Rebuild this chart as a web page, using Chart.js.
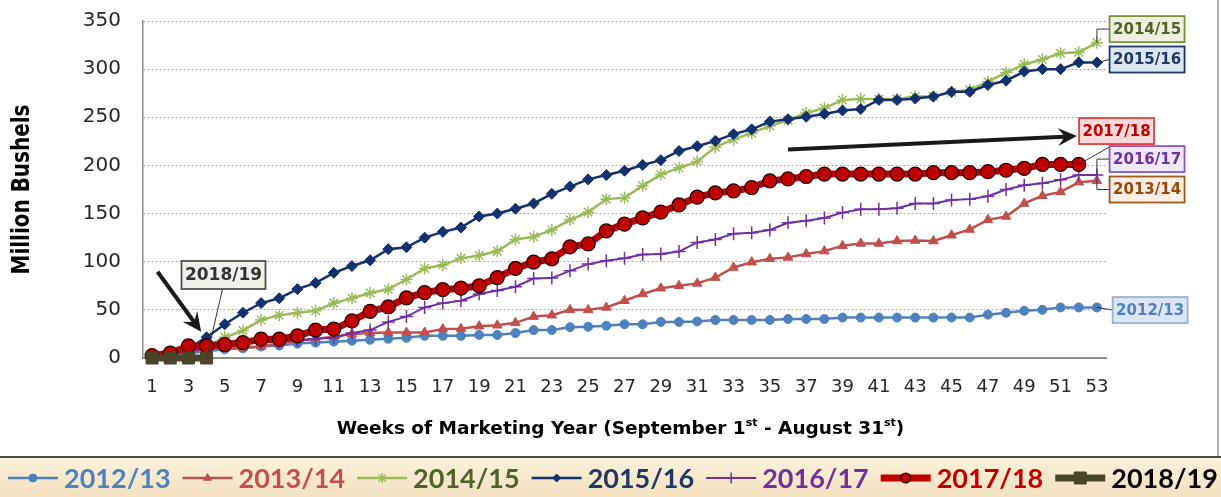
<!DOCTYPE html>
<html>
<head>
<meta charset="utf-8">
<script src="https://cdn.jsdelivr.net/npm/chart.js@4.4.1/dist/chart.umd.min.js"></script>
<style>
  html, body { margin: 0; padding: 0; background: #fff; overflow: hidden; }
</style>
</head>
<body>
<canvas id="exportChart" width="1221" height="497"></canvas>
<script>
// weeks of the marketing year
const weeks = ['1','2','3','4','5','6','7','8','9','10','11','12','13','14','15','16','17','18','19','20',
  '21','22','23','24','25','26','27','28','29','30','31','32','33','34','35','36','37','38','39','40',
  '41','42','43','44','45','46','47','48','49','50','51','52','53'];

// cumulative exports, million bushels
const y2012 = [2, 3, 5, 7, 9, 10, 12, 13, 15, 16, 17, 18, 19, 20, 21, 23, 23, 23, 24, 24,
  26, 29, 29, 32, 32.5, 33.5, 35, 35, 37.5, 37.5, 38, 39.5, 39.5, 39.5, 39.5, 40.5, 40.5, 40.5, 42, 42,
  42, 42, 42, 42, 42, 42, 45, 47, 49, 50, 52.5, 52.5, 52.5];
const y2013 = [3, 6, 7, 9, 10, 11, 12, 15, 18, 20, 22, 25, 26, 26.5, 26.5, 26.5, 30, 30.5, 33, 34,
  36.5, 43, 44.5, 50, 50, 52.5, 59.5, 66.5, 72.5, 75, 77.5, 83.5, 94, 99.5, 103, 104.5, 108, 111, 116.5, 119,
  119, 121.5, 122, 121.5, 127.5, 133.5, 143.5, 147, 160.5, 168.5, 172.5, 182.5, 184];
const y2014 = [2, 4, 8, 12.5, 21.5, 28.5, 39.5, 44.5, 47, 49, 57, 62, 67.5, 71.5, 81.5, 93, 96.5, 103.5, 106.5, 111,
  123, 126, 133, 143.5, 151.5, 165, 166.5, 179, 190.5, 197.5, 204, 219, 227, 233.5, 241, 247, 254.5, 259.5, 268, 269,
  269, 269, 271.5, 271.5, 276, 278.5, 287, 296.5, 305, 310, 316.5, 317.5, 327.5];
const y2015 = [2, 5, 10, 21.5, 35, 47, 57, 62, 71.5, 78, 88.5, 95.5, 101.5, 113, 115, 125, 131, 135.5, 147, 150,
  155, 160.5, 170.5, 178, 185.5, 190, 194.5, 200.5, 205.5, 215, 220, 225.5, 232.5, 237.5, 245.5, 248, 250.5, 253.5, 257, 258.5,
  268, 268, 269.5, 271.5, 276.5, 276.5, 283.5, 288, 297.5, 300, 300, 307, 307];
const y2016 = [2, 4, 7, 10, 13, 15, 16, 17, 18, 20, 21, 26, 29, 37.5, 43, 52.5, 57, 59.5, 66.5, 70,
  74, 82.5, 83, 90.5, 97.5, 101, 103.5, 107.5, 108, 110.5, 120, 123, 129, 130, 133, 140.5, 142.5, 145.5, 151, 154.5,
  154.5, 155.5, 160.5, 160.5, 164, 165, 168, 175, 179.5, 181.5, 185, 190, 190];
const y2017 = [2.5, 5, 12.5, 12.5, 14, 16, 19.5, 19.5, 23, 29, 30, 38.5, 48.5, 53, 62.5, 68, 71, 72.5, 75, 83.5,
  93, 99.5, 103, 115.5, 118.5, 132, 139, 145.5, 151.5, 159, 167, 171.5, 173.5, 177, 184, 186, 188.5, 191, 191, 191,
  191, 191, 191, 192.5, 192.5, 192.5, 193.5, 195, 197, 201, 201, 201];
const y2018 = [0, 0, 0, 0];

const seasons = ['2012/13', '2013/14', '2014/15', '2015/16', '2016/17', '2017/18', '2018/19'];
const yTicks = [0, 50, 100, 150, 200, 250, 300, 350];

// line look for every season
const looks = [
  { line: '#4F81BD', w: 2.5, pt: 'circle',   r: 4.5, fill: '#4F81BD', edge: '#4F81BD', pw: 1,   lr: 4,   text: '#4F81BD' },
  { line: '#C0504D', w: 2.5, pt: 'triangle', r: 5.5, fill: '#C0504D', edge: '#C0504D', pw: 1,   lr: 4.5, text: '#C0504D' },
  { line: '#9BBB59', w: 2.5, pt: 'star',     r: 6,   fill: '#9BBB59', edge: '#9BBB59', pw: 1.5, lr: 5,   text: '#4F6228' },
  { line: '#14306E', w: 2.5, pt: 'rectRot',  r: 5.5, fill: '#14306E', edge: '#14306E', pw: 1,   lr: 4,   text: '#1F3864' },
  { line: '#7030A0', w: 2,   pt: 'cross',    r: 6.5, fill: '#7030A0', edge: '#7030A0', pw: 1.5, lr: 5.5, text: '#7030A0' },
  { line: '#C00000', w: 7,   pt: 'circle',   r: 7,   fill: '#C00000', edge: '#1a0000', pw: 1.2, lr: 5,   text: '#C00000' },
  { line: '#4A452A', w: 7,   pt: 'rect',     r: 8.5, fill: '#4A452A', edge: '#4A452A', pw: 1,   lr: 8.5, text: '#000000' }
];
const allSeries = [y2012, y2013, y2014, y2015, y2016, y2017, y2018];

// labelled boxes next to the season lines, placed in (week, value) units
const callouts = [
  { text: '2014/15', s: 2, at: [55.76, 341.6], link: 'elbow', fill: '#EBF1DE', edge: '#77933C', color: '#4F6228' },
  { text: '2015/16', s: 3, at: [55.76, 310],   link: 'side',  fill: '#DCE6F2', edge: '#1F3864', color: '#1F3864' },
  { text: '2017/18', s: 5, at: [54.08, 235.7], link: 'below', fill: '#F9D9D9', edge: '#E0403F', color: '#C00000' },
  { text: '2016/17', s: 4, at: [55.76, 206.6], link: 'elbow', fill: '#EFE8F6', edge: '#8A56BE', color: '#7030A0' },
  { text: '2013/14', s: 1, at: [55.76, 175],   link: 'elbow', fill: '#FDEFE6', edge: '#A0581C', color: '#984807' },
  { text: '2012/13', s: 0, at: [55.93, 49.8],  link: 'side',  fill: '#DCE6F2', edge: '#95B3D7', color: '#4F81BD' },
  { text: '2018/19', s: 6, at: [4.93, 86.2],   link: 'below', fill: '#F2F1E8', edge: '#505050', color: '#333333', big: true }
];
const arrows = [
  { from: [1.3, 89.6], to: [3.7, 27.3] },
  { from: [36.0, 216.5], to: [51.9, 230.5] }
];

const datasets = seasons.map((name, i) => ({
  label: name,
  data: allSeries[i],
  borderColor: looks[i].line,
  borderWidth: looks[i].w,
  backgroundColor: looks[i].fill,
  pointStyle: looks[i].pt,
  pointRadius: looks[i].r,
  pointHoverRadius: looks[i].r,
  pointBackgroundColor: looks[i].fill,
  pointBorderColor: looks[i].edge,
  pointBorderWidth: looks[i].pw,
  tension: 0,
  clip: false,
  order: seasons.length - i
}));

function drawArrow(ctx, x1, y1, x2, y2) {
  const ang = Math.atan2(y2 - y1, x2 - x1);
  const len = 19, half = 9;
  const bx = x2 - Math.cos(ang) * len, by = y2 - Math.sin(ang) * len;
  const nx = -Math.sin(ang), ny = Math.cos(ang);
  ctx.strokeStyle = '#1a1a1a';
  ctx.fillStyle = '#1a1a1a';
  ctx.lineWidth = 4;
  ctx.beginPath();
  ctx.moveTo(x1, y1);
  ctx.lineTo(x2 - Math.cos(ang) * 8, y2 - Math.sin(ang) * 8);
  ctx.stroke();
  ctx.beginPath();
  ctx.moveTo(x2, y2);
  ctx.lineTo(bx + nx * half, by + ny * half);
  ctx.lineTo(x2 - Math.cos(ang) * 12, y2 - Math.sin(ang) * 12);
  ctx.lineTo(bx - nx * half, by - ny * half);
  ctx.closePath();
  ctx.fill();
}

// text squeezed to a given length along its baseline
function fitText(ctx, text, x, y, width, rot) {
  ctx.save();
  ctx.translate(x, y);
  ctx.rotate(rot);
  const w = ctx.measureText(text).width;
  ctx.scale(width / w, 1);
  ctx.textAlign = 'center';
  ctx.textBaseline = 'middle';
  ctx.fillText(text, 0, 0);
  ctx.restore();
}

const notes = {
  id: 'notes',
  afterDatasetsDraw(chart) {
    const { ctx, scales: { x, y } } = chart;
    const px = w => x.getPixelForValue(w - 1);
    ctx.save();

    arrows.forEach(a => drawArrow(ctx, px(a.from[0]), y.getPixelForValue(a.from[1]),
      px(a.to[0]), y.getPixelForValue(a.to[1])));

    callouts.forEach(c => {
      const data = allSeries[c.s];
      const last = data.length - 1;
      const ptX = x.getPixelForValue(last), ptY = y.getPixelForValue(data[last]);
      const bw = c.big ? 84 : 75, bh = c.big ? 28 : 26;
      const cx = px(c.at[0]), cy = y.getPixelForValue(c.at[1]);
      const left = cx - bw / 2, top = cy - bh / 2;

      ctx.strokeStyle = '#333';
      ctx.lineWidth = 1;
      ctx.beginPath();
      if (c.link === 'elbow') {
        ctx.moveTo(left, cy);
        ctx.lineTo(ptX, cy);
        ctx.lineTo(ptX, ptY);
      } else if (c.link === 'side') {
        ctx.moveTo(left, cy);
        ctx.lineTo(ptX, ptY);
      } else {
        ctx.moveTo(cx - (c.big ? 1 : 2), top + bh);
        ctx.lineTo(ptX, ptY);
      }
      ctx.stroke();

      ctx.fillStyle = c.fill;
      ctx.fillRect(left, top, bw, bh);
      ctx.strokeStyle = c.edge;
      ctx.lineWidth = 1.8;
      ctx.strokeRect(left, top, bw, bh);
      ctx.fillStyle = c.color;
      ctx.font = 'bold ' + (c.big ? 17 : 15) + 'px "DejaVu Sans"';
      ctx.textAlign = 'center';
      ctx.textBaseline = 'middle';
      ctx.fillText(c.text, cx, cy + 1);
    });
    ctx.restore();
  },
  afterDraw(chart) {
    const { ctx, chartArea } = chart;
    ctx.save();
    ctx.fillStyle = '#000';

    // y axis title
    ctx.font = 'bold 25px "DejaVu Sans Condensed", "DejaVu Sans"';
    fitText(ctx, 'Million Bushels', 22, (chartArea.top + chartArea.bottom) / 2, 170, -Math.PI / 2);

    // x axis title with superscripts
    const parts = [['Weeks of Marketing Year (September 1', 0], ['st', 1], [' - August 31', 0], ['st', 1], [')', 0]];
    const big = 'bold 18.5px "DejaVu Sans"', small = 'bold 11px "DejaVu Sans"';
    let total = 0;
    parts.forEach(p => { ctx.font = p[1] ? small : big; total += ctx.measureText(p[0]).width; });
    let tx = (chartArea.left + chartArea.right) / 2 - total / 2 - 4;
    const ty = 429;
    ctx.textAlign = 'left';
    ctx.textBaseline = 'middle';
    parts.forEach(p => {
      ctx.font = p[1] ? small : big;
      ctx.fillText(p[0], tx, p[1] ? ty - 6 : ty);
      tx += ctx.measureText(p[0]).width;
    });

    // right frame edge
    ctx.strokeStyle = '#9a9a9a';
    ctx.lineWidth = 1.5;
    ctx.beginPath();
    ctx.moveTo(1218, 0);
    ctx.lineTo(1218, 457);
    ctx.stroke();

    // legend band
    const g = ctx.createLinearGradient(0, 457, 0, 497);
    g.addColorStop(0, '#FBF1DC');
    g.addColorStop(1, '#F3E1BF');
    ctx.fillStyle = g;
    ctx.fillRect(0, 457, 1221, 40);
    ctx.strokeStyle = '#111';
    ctx.lineWidth = 1.5;
    ctx.beginPath();
    ctx.moveTo(0, 457);
    ctx.lineTo(1221, 457);
    ctx.stroke();

    let lx = 8;
    const ly = 478;
    chart.data.datasets.forEach((ds, i) => {
      const lk = looks[i];
      ctx.strokeStyle = lk.line;
      ctx.lineWidth = lk.w;
      ctx.beginPath();
      ctx.moveTo(lx, ly);
      ctx.lineTo(lx + 50, ly);
      ctx.stroke();
      ctx.fillStyle = lk.fill;
      ctx.strokeStyle = lk.edge;
      ctx.lineWidth = lk.pw;
      Chart.helpers.drawPoint(ctx, { pointStyle: lk.pt, radius: lk.lr, borderWidth: lk.pw, rotation: 0 }, lx + 25, ly);
      ctx.font = 'bold 27px Lato';
      ctx.fillStyle = lk.text;
      ctx.textAlign = 'left';
      ctx.textBaseline = 'middle';
      ctx.fillText(ds.label, lx + 56, ly + 1);
      lx += 56 + ctx.measureText(ds.label).width + 12;
    });
    ctx.restore();
  }
};

new Chart(document.getElementById('exportChart'), {
  type: 'line',
  data: { labels: weeks, datasets: datasets },
  options: {
    responsive: false,
    animation: false,
    layout: { autoPadding: false, padding: { left: 0, right: 115, top: 21, bottom: 0 } },
    plugins: { legend: { display: false }, tooltip: { enabled: false } },
    scales: {
      x: {
        type: 'category',
        offset: true,
        grid: { display: false, drawTicks: false },
        border: { display: true, color: '#8c8c8c', width: 2 },
        ticks: {
          autoSkip: false,
          maxRotation: 0,
          padding: 19,
          color: '#262626',
          font: { family: 'DejaVu Sans', size: 18 },
          callback: (v, i) => (i % 2 === 0 ? weeks[i] : '')
        },
        afterFit: s => { s.height = 139; }
      },
      y: {
        min: 0,
        max: 350,
        afterBuildTicks: s => { s.ticks = yTicks.map(v => ({ value: v })); },
        grid: { color: '#a8a8a8', lineWidth: 1, drawTicks: false },
        border: { display: true, color: '#8c8c8c', width: 1.5, dash: [2, 2] },
        ticks: { padding: 22, color: '#262626', font: { family: 'DejaVu Sans', size: 20 } },
        // fixed axis width; the plot top comes from the layout padding only
        afterFit: s => { s.width = 143; s.paddingTop = 0; s.paddingBottom = 0; }
      }
    }
  },
  plugins: [notes]
});
</script>
</body>
</html>
